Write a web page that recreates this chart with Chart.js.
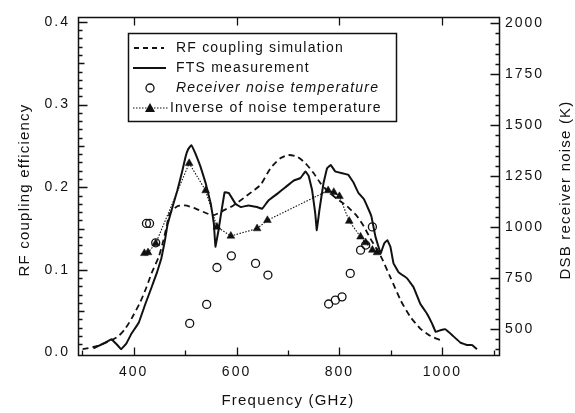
<!DOCTYPE html>
<html>
<head>
<meta charset="utf-8">
<script src="https://cdn.jsdelivr.net/npm/chart.js@4.4.1/dist/chart.umd.min.js"></script>
<style>
	body { margin: 0; background: #fff; }
	canvas { display: block; }
</style>
</head>
<body>
<canvas id="myChart" width="575" height="413"></canvas>
<script>
// RF coupling simulation (dashed)
var simFreq = [301, 330, 357, 371, 384, 396, 413, 425, 435, 449, 458, 464, 470, 485, 500, 517, 536, 555, 575, 594, 614, 633, 647, 666, 685, 701, 718, 734, 750, 763, 776, 795, 815, 834, 847, 860, 880, 899, 919, 938, 957, 977, 996];
var simValue = [0.004, 0.008, 0.015, 0.020, 0.029, 0.041, 0.061, 0.079, 0.096, 0.116, 0.136, 0.152, 0.168, 0.177, 0.178, 0.175, 0.170, 0.166, 0.172, 0.178, 0.187, 0.196, 0.203, 0.223, 0.235, 0.239, 0.237, 0.229, 0.217, 0.205, 0.196, 0.186, 0.177, 0.165, 0.153, 0.138, 0.117, 0.091, 0.063, 0.043, 0.029, 0.020, 0.015];

// FTS measurement (solid)
var ftsFreq = [322, 332, 345, 357, 367, 376, 386, 396, 410, 423, 435, 445, 454, 461, 466, 475, 485, 494, 501, 506, 512, 520, 530, 540, 550, 556, 559, 565, 570, 577, 585, 598, 608, 623, 640, 650, 662, 679, 695, 711, 724, 734, 740, 747, 753, 756, 761, 769, 776, 783, 792, 805, 817, 827, 837, 847, 856, 862, 870, 880, 887, 893, 899, 905, 915, 931, 944, 957, 970, 980, 987, 996, 1006, 1019, 1035, 1048, 1058, 1067];
var ftsValue = [0.005, 0.008, 0.012, 0.016, 0.010, 0.004, 0.011, 0.023, 0.036, 0.059, 0.079, 0.096, 0.114, 0.136, 0.155, 0.175, 0.196, 0.218, 0.237, 0.246, 0.251, 0.241, 0.225, 0.205, 0.180, 0.156, 0.128, 0.148, 0.168, 0.194, 0.193, 0.180, 0.176, 0.178, 0.176, 0.174, 0.184, 0.192, 0.200, 0.208, 0.211, 0.219, 0.214, 0.196, 0.168, 0.148, 0.172, 0.205, 0.223, 0.227, 0.219, 0.217, 0.215, 0.206, 0.193, 0.186, 0.174, 0.165, 0.140, 0.120, 0.132, 0.136, 0.128, 0.108, 0.097, 0.090, 0.079, 0.059, 0.047, 0.035, 0.025, 0.027, 0.028, 0.021, 0.012, 0.009, 0.009, 0.004];

// Receiver noise temperature (open circles, right axis, K)
var noiseFreq = [425, 431, 443, 509, 542, 562, 590, 637, 661, 779, 792, 805, 821, 841, 851, 864];
var noiseTemp = [1018, 1018, 923, 528, 621, 802, 859, 822, 765, 623, 642, 658, 773, 887, 912, 1001];

// Inverse of noise temperature (triangles, dotted)
var invFreq = [421, 428, 443, 508, 540, 562, 589, 640, 660, 778, 789, 800, 819, 841, 851, 864, 873];
var invValue = [0.120, 0.121, 0.132, 0.229, 0.196, 0.152, 0.141, 0.150, 0.160, 0.196, 0.194, 0.189, 0.159, 0.140, 0.133, 0.124, 0.121];

var xTicks = [400, 600, 800, 1000];
var yTicks = [0.0, 0.1, 0.2, 0.3, 0.4];
var y2Ticks = [500, 750, 1000, 1250, 1500, 1750, 2000];

var legendLabels = ['RF coupling simulation', 'FTS measurement', 'Receiver noise temperature', 'Inverse of noise temperature'];

var INK = '#111';
var FONT = '"Liberation Sans", Arial, sans-serif';
var myChart;

function _points(xs, ys) {
	var arr = new Array();
	xs.forEach(function(x, i) {
		arr.push({ x: x, y: ys[i] });
	});
	return arr;
}

function _fixTicks(list) {
	return function(scale) {
		scale.ticks = list.map(function(v) { return { value: v }; });
	};
}

function _snap(p) {
	return Math.round(p) + 0.5;
}

// inward tick marks, frame, legend box and axis titles
var framePlugin = {
	id: 'frame',
	beforeDraw: function(chart) {
		chart.ctx.letterSpacing = '2px';
	},
	afterDraw: function(chart) {
		var ctx = chart.ctx;
		var a = chart.chartArea;
		var sx = chart.scales.x, sy = chart.scales.y, sy2 = chart.scales.y2;
		var L = _snap(a.left), R = _snap(a.right), T = _snap(a.top), B = _snap(a.bottom);
		var v, p;

		ctx.save();
		ctx.letterSpacing = '0px';
		ctx.strokeStyle = INK;
		ctx.lineWidth = 1.5;
		ctx.beginPath();
		ctx.moveTo(L, T); ctx.lineTo(R, T); ctx.lineTo(R, B); ctx.lineTo(L, B); ctx.closePath();
		ctx.stroke();

		ctx.lineWidth = 1.3;
		ctx.beginPath();
		// bottom + top
		for (v = 300; v <= 1100; v += 100) {
			p = _snap(sx.getPixelForValue(v));
			if (p <= L + 2 || p >= R - 2) continue;
			var major = (v % 200 == 0);
			ctx.moveTo(p, B); ctx.lineTo(p, B - (major ? 8 : 5));
			if (major) { ctx.moveTo(p, T); ctx.lineTo(p, T + 8); }
		}
		// left
		for (var i = 1; i <= 40; i++) {
			v = i / 100;
			p = _snap(sy.getPixelForValue(v));
			var len = (i % 10 == 0) ? 9 : ((i % 5 == 0) ? 6 : 4);
			ctx.moveTo(L, p); ctx.lineTo(L + len, p);
		}
		// right
		for (v = 400; v <= 2000; v += 50) {
			p = _snap(sy2.getPixelForValue(v));
			var len2 = (v % 250 == 0) ? 9 : 4;
			ctx.moveTo(R, p); ctx.lineTo(R - len2, p);
		}
		ctx.stroke();

		// legend
		var bx = 128.5, by = 33.5, bw = 268, bh = 88;
		ctx.fillStyle = '#fff';
		ctx.fillRect(bx, by, bw, bh);
		ctx.lineWidth = 1.5;
		ctx.strokeRect(bx, by, bw, bh);

		var rows = [48, 68, 88, 108];
		ctx.lineWidth = 1.8;
		ctx.setLineDash([5, 4]);
		ctx.beginPath(); ctx.moveTo(134, rows[0]); ctx.lineTo(164, rows[0]); ctx.stroke();
		ctx.setLineDash([]);
		ctx.beginPath(); ctx.moveTo(133, rows[1]); ctx.lineTo(166, rows[1]); ctx.stroke();
		ctx.lineWidth = 1.3;
		ctx.beginPath(); ctx.arc(150, rows[2], 4, 0, Math.PI * 2); ctx.stroke();
		ctx.lineWidth = 1.1;
		ctx.setLineDash([1.5, 1.5]);
		ctx.beginPath(); ctx.moveTo(133, rows[3]); ctx.lineTo(168, rows[3]); ctx.stroke();
		ctx.setLineDash([]);
		ctx.fillStyle = INK;
		ctx.beginPath();
		ctx.moveTo(150, rows[3] - 5); ctx.lineTo(155, rows[3] + 4); ctx.lineTo(145, rows[3] + 4);
		ctx.closePath(); ctx.fill();

		ctx.letterSpacing = '1.2px';
		ctx.textBaseline = 'middle';
		ctx.textAlign = 'left';
		ctx.font = '14px ' + FONT;
		ctx.fillText(legendLabels[0], 176, rows[0]);
		ctx.fillText(legendLabels[1], 176, rows[1]);
		ctx.font = 'italic 14px ' + FONT;
		ctx.fillText(legendLabels[2], 176, rows[2]);
		ctx.font = '14px ' + FONT;
		ctx.fillText(legendLabels[3], 170, rows[3]);

		// axis titles
		ctx.font = '15px ' + FONT;
		ctx.textAlign = 'center';
		ctx.fillText('Frequency (GHz)', 288, 401);

		ctx.translate(25, 190);
		ctx.rotate(-Math.PI / 2);
		ctx.fillText('RF coupling efficiency', 0, 0);
		ctx.rotate(Math.PI / 2);
		ctx.translate(-25, -190);

		ctx.translate(566, 190);
		ctx.rotate(-Math.PI / 2);
		ctx.fillText('DSB receiver noise (K)', 0, 0);
		ctx.restore();
	}
};

var _config = {
	type: 'line',
	data: {
		datasets: [
			{
				label: legendLabels[0],
				data: _points(simFreq, simValue),
				yAxisID: 'y',
				borderColor: INK,
				borderWidth: 1.8,
				borderDash: [6, 4],
				pointRadius: 0,
				fill: false,
				tension: 0.2,
			},
			{
				label: legendLabels[1],
				data: _points(ftsFreq, ftsValue),
				yAxisID: 'y',
				borderColor: INK,
				borderWidth: 2,
				pointRadius: 0,
				fill: false,
				tension: 0.05,
			},
			{
				label: legendLabels[3],
				data: _points(invFreq, invValue),
				yAxisID: 'y',
				borderColor: INK,
				borderWidth: 1.1,
				borderDash: [1.5, 1.5],
				pointStyle: 'triangle',
				pointRadius: 4.5,
				pointBackgroundColor: INK,
				pointBorderColor: INK,
				pointBorderWidth: 0.5,
				fill: false,
				tension: 0,
			},
			{
				label: legendLabels[2],
				data: _points(noiseFreq, noiseTemp),
				yAxisID: 'y2',
				showLine: false,
				pointStyle: 'circle',
				pointRadius: 4,
				pointBackgroundColor: 'rgba(0,0,0,0)',
				pointBorderColor: INK,
				pointBorderWidth: 1.3,
			},
		]
	},
	options: {
		responsive: false,
		animation: false,
		devicePixelRatio: 1,
		layout: {
			padding: { top: 17, left: 0, right: 0, bottom: 0 }
		},
		plugins: {
			legend: { display: false },
			tooltip: { enabled: false },
		},
		scales: {
			x: {
				type: 'linear',
				min: 292,
				max: 1110,
				afterBuildTicks: _fixTicks(xTicks),
				afterFit: function(s) { s.height = 58; },
				grid: { display: false, drawTicks: false },
				border: { display: false },
				ticks: {
					padding: 9,
					color: INK,
					font: { family: FONT, size: 14 },
					callback: function(v) { return String(v); },
				}
			},
			y: {
				type: 'linear',
				position: 'left',
				min: -0.003,
				max: 0.406,
				afterBuildTicks: _fixTicks(yTicks),
				afterFit: function(s) { s.width = 78; },
				grid: { display: false, drawTicks: false },
				border: { display: false },
				ticks: {
					padding: 8,
					color: INK,
					font: { family: FONT, size: 14 },
					callback: function(v) { return v.toFixed(1); },
				}
			},
			y2: {
				type: 'linear',
				position: 'right',
				min: 373,
				max: 2030,
				afterBuildTicks: _fixTicks(y2Ticks),
				afterFit: function(s) { s.width = 76; },
				grid: { display: false, drawTicks: false },
				border: { display: false },
				ticks: {
					padding: 6,
					color: INK,
					font: { family: FONT, size: 14 },
					callback: function(v) { return String(v); },
				}
			}
		}
	},
	plugins: [framePlugin]
};

function createChart(id) {
	var ctx = document.getElementById(id);
	if (Chart.getChart(id)) {
		myChart.destroy();
	}
	myChart = new Chart(ctx, _config);
}

createChart('myChart');
</script>
</body>
</html>
